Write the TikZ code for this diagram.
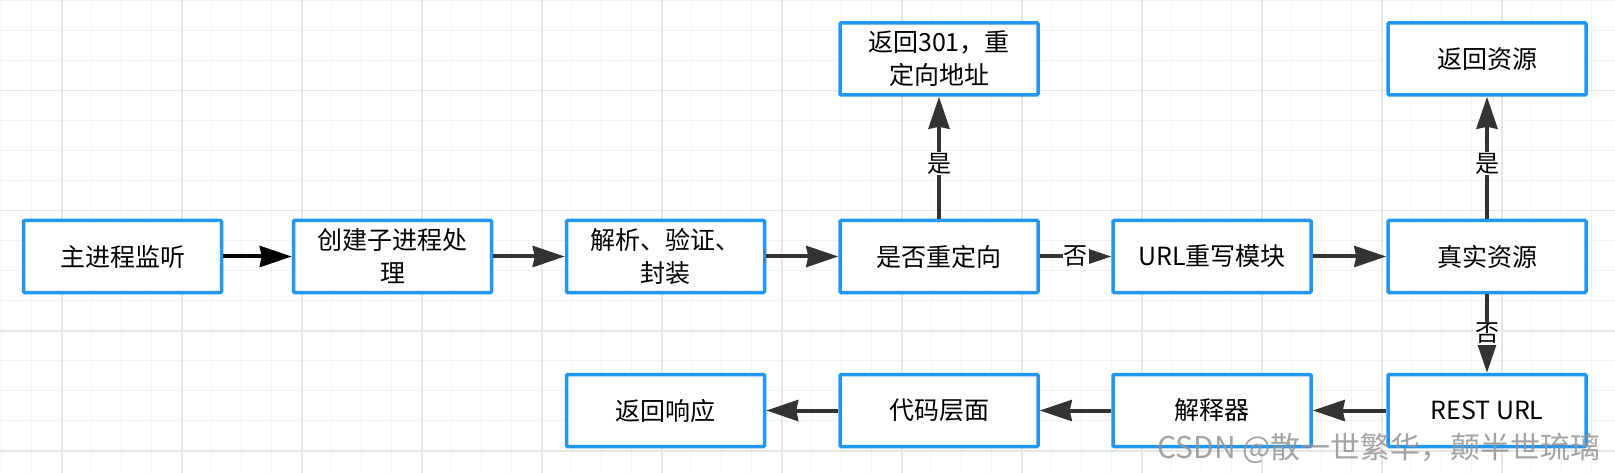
\documentclass[tikz,border=0pt]{standalone}
\usepackage{fontspec}
\setmainfont{Noto Sans CJK SC}
\usetikzlibrary{arrows.meta}
\definecolor{boxblue}{RGB}{33,150,243}
\definecolor{arrgray}{RGB}{51,51,51}
\definecolor{gridminor}{RGB}{243,243,243}
\definecolor{gridmajor}{RGB}{230,230,230}
\tikzset{
  flowbox/.style={draw=boxblue, line width=3.5pt, fill=white, minimum width=198pt, minimum height=72pt,
    align=center, inner sep=2pt, font=\fontsize{25}{33}\selectfont, rounded corners=1pt},
  conn/.style={draw=arrgray, line width=4pt, -{Stealth[length=32pt,width=21pt,inset=2pt]}},
  connblack/.style={draw=black, line width=4pt, -{Stealth[length=32pt,width=21pt,inset=2pt]}},
  lbl/.style={fill=white, inner sep=1pt, font=\fontsize{24}{26}\selectfont, text=black},
}
\begin{document}
\begin{tikzpicture}[x=1pt,y=-1pt]
\useasboundingbox (0,0) rectangle (1615,473);
\fill[white] (0,0) rectangle (1615,473);
% grid
\foreach \k in {0,...,53} { \draw[gridminor, line width=1.4pt] ({1.7+30*\k},0) -- ({1.7+30*\k},473); }
\foreach \k in {0,...,15} { \draw[gridminor, line width=1.4pt] (0,{0.7+30*\k}) -- (1615,{0.7+30*\k}); }
\foreach \k in {0,...,12} { \draw[gridmajor, line width=1.6pt] ({61.7+120*\k},0) -- ({61.7+120*\k},473); }
\foreach \k in {0,...,3} { \draw[gridmajor, line width=1.6pt] (0,{90.7+120*\k}) -- (1615,{90.7+120*\k}); }
% nodes
\node[flowbox] (a) at (122.5,256.5) {主进程监听};
\node[flowbox] (b) at (392.5,256.5) {创建子进程处\\理};
\node[flowbox] (c) at (665.5,256.5) {解析、验证、\\封装};
\node[flowbox] (d) at (939,256.5) {是否重定向};
\node[flowbox] (e) at (1212,256.5) {URL重写模块};
\node[flowbox] (f) at (1487,256.5) {真实资源};
\node[flowbox] (g) at (939,59) {返回301，重\\定向地址};
\node[flowbox] (h) at (1487,59) {返回资源};
\node[flowbox] (i) at (1487,410.5) {REST URL};
\node[flowbox] (j) at (1212,410.5) {解释器};
\node[flowbox] (k) at (939,410.5) {代码层面};
\node[flowbox] (l) at (665.5,410.5) {返回响应};
% connectors
\draw[connblack] (a) -- (b);
\draw[conn] (b) -- (c);
\draw[conn] (c) -- (d);
\draw[conn] (d) -- node[lbl, pos=0.5] {否} (e);
\draw[conn] (e) -- (f);
\draw[conn] (d) -- node[lbl, pos=0.45] {是} (g);
\draw[conn] (f) -- node[lbl, pos=0.45] {是} (h);
\draw[conn] (f) -- node[lbl, pos=0.5] {否} (i);
\draw[conn] (i) -- (j);
\draw[conn] (j) -- (k);
\draw[conn] (k) -- (l);
% watermark
\node[anchor=east, inner sep=0pt, text=black!42, text opacity=0.85, font=\fontsize{30}{31}\selectfont] (wm) at (1601,448) {CSDN @散一世繁华，颠半世琉璃};
\end{tikzpicture}
\end{document}
